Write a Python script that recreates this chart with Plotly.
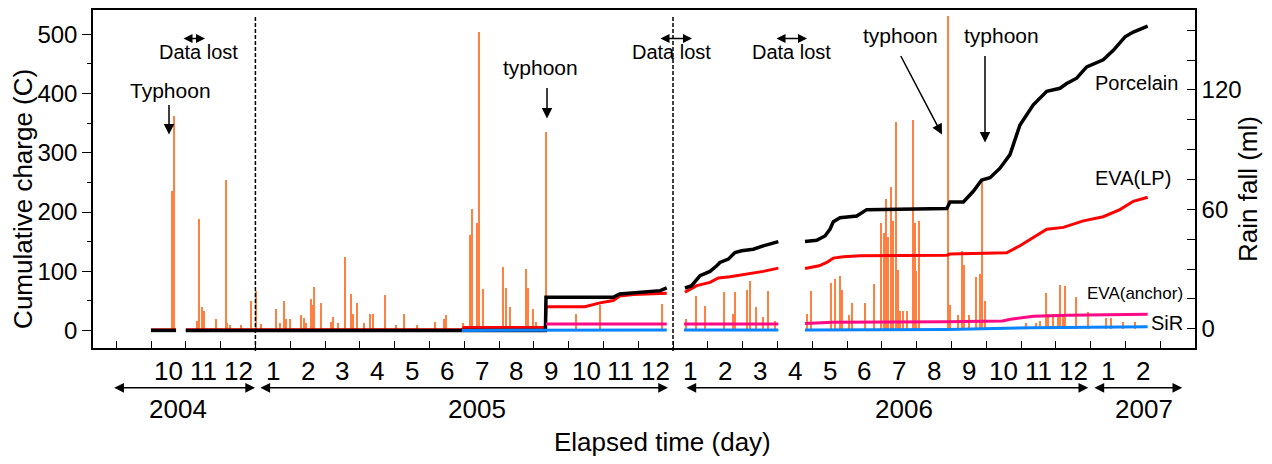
import plotly.graph_objects as go

# ---------------- data ----------------
# daily rain fall (ml): elapsed day, amount
rain_day = [18.4, 19.8, 40.3, 41.4, 44.6, 46, 56.6, 64.7, 66.1, 68.1, 78.2, 86,
            91.1, 95.4, 107.8, 111.2, 114.7, 116.4, 120.4, 129.9, 131.9, 133.6, 137.9, 139.1,
            140.8, 146.6, 155.8, 157.2, 161, 167.8, 172.4, 174.4, 177.8, 183.6, 188.8, 191.6,
            201.7, 211.8, 218.1, 229.6, 244.8, 252.8, 254.3, 269.2, 275, 277.3, 281.3, 283,
            286, 303.7, 306, 310.1, 323.9, 325.3, 329.1, 331.9, 340.5, 367, 387.1, 440.8,
            461.8, 470.4, 477.6, 494, 502, 503.4, 514, 517, 522.1, 527.8, 532.2, 537.9,
            565.8, 569.6, 586.8, 590.2, 594, 596.3, 601.7, 604.1, 616.1, 623.3,
            629.9, 631.9, 633.6, 635.6, 637.9, 639.9, 642.2, 644.2, 645.7, 648.5, 652,
            657.2, 658.9, 660.1, 662.1, 687.3, 688.8, 696, 699.4, 700.9, 705.2, 711.8,
            714.7, 717, 719, 754.9, 763.5, 766.4, 771.6, 773.5, 777.8, 781.9, 783.6,
            786.5, 788, 798, 808, 823.9, 828.2, 838.2, 848.3]
rain_ml = [69, 107, 4, 55, 11, 9, 5, 75, 3, 2, 2, 14,
           19, 2.5, 10, 3, 14, 5, 5, 7, 5.5, 3, 15, 12,
           21, 13, 3.5, 6, 3, 36, 17.5, 7.5, 13, 3, 7.5, 7.5,
           17, 2, 7.5, 2, 3.3, 5, 7, 3, 47, 60, 53, 149,
           20, 31, 20.5, 11, 30, 20.5, 10, 3.3, 99, 7.5, 12, 12.5,
           5, 16.3, 11.2, 18.3, 7.5, 18.3, 19.5, 23.8, 10.8, 5.8, 18.8, 4,
           7.5, 19, 22.8, 25, 26.7, 19.5, 7, 12.8, 13, 22.5,
           53, 48, 65, 46, 71, 54, 104, 29.5, 9, 8.7, 8.8,
           105, 53, 29, 54, 157, 12, 7, 39, 32, 7, 26,
           27.5, 74, 14, 3, 3, 4, 18, 7.5, 7.5, 7.5, 22,
           7.5, 21.7, 16, 8.3, 5.5, 5.5, 3.5, 3.5]

# cumulative charge (C); None = data lost
por_day = [0, 21.6, None, 30, 340, 340.5, 398.5, 404, 427, 439, 444.6, None,
           460.3, 466.1, 473.3, 481.9, 487.7, 490.5, 497.7, 503.4, 509.2, 519.2, 527.8, 540.8, None,
           563.8, 573.9, 581, 585.3, 588.2, 594, 608.4, 617, 686, 688.8, 700.3, 708.9,
           716.1, 723.3, 731.9, 740.5, 749.1, 760.6, 772.2, 783.6, 789.4, 798,
           806.6, 820.9, 829.6, 839.7, 846.8, 859.2]
por_val = [0, 0, None, 0, 0, 56, 56, 61.6, 64.5, 67.2, 71.7, None,
           71.7, 75.6, 92.4, 99.7, 109.2, 114.8, 120.4, 131.5, 134.4, 137.2, 142.8, 150, None,
           150, 152.2, 159.6, 170.8, 183.6, 190.4, 193.2, 204, 206, 217, 217, 235,
           254, 258, 274, 297, 347, 381, 404, 409, 417, 426,
           445, 457, 473, 496, 504, 514]

lp_day = [0, 21.6, None, 30, 268, 270, 340, 340.5, 374, 387, 398.5, 404, 415.7, 444.6, None,
          460.3, 470.4, 481.9, 489.1, 499.1, 513.5, 527.8, 540.8, None,
          563.8, 576, 582.5, 588.2, 596.8, 611.2, 686, 688.8, 737.7, 749.1, 760.6, 772.2, 786.5,
          803.7, 820.9, 835.3, 846.8, 859.2]
lp_val = [1, 1, None, 1, 1, 5, 5, 40, 40, 46.5, 50.4, 58, 60.5, 62.7, None,
          64.4, 75.6, 81.2, 88.5, 90.7, 95.2, 99.7, 105.2, None,
          104.7, 109.2, 114.8, 122.1, 124.3, 126, 127, 129, 131, 143, 157, 171, 174,
          185, 192, 204, 218, 225]

anc_day = [340.5, 444.6, None, 459.5, 540.8, None, 563.8, 588, 686, 734, 741, 760.6, 790, 859.2]
anc_val = [11, 11, None, 11, 11, None, 11.5, 14, 14.5, 16, 19, 24, 25.5, 27.5]

sir_day = [268, 444.6, None, 459.5, 540.8, None, 563.8, 686, 760, 859.2]
sir_val = [0, 0.5, None, 0.8, 0.8, None, 0.8, 1.5, 4.5, 6]

month_labels = ["10", "11", "12",
                "1", "2", "3", "4", "5", "6", "7", "8", "9", "10", "11", "12",
                "1", "2", "3", "4", "5", "6", "7", "8", "9", "10", "11", "12",
                "1", "2"]
year_labels = ["2004", "2005", "2006", "2007"]
year_label_day = [23, 281, 649, 856]
year_span = [(-33, 89.7), (93, 445.7), (460.3, 808), (812, 889)]

# ---------------- layout constants ----------------
FONT = "Liberation Sans, Arial, sans-serif"
L, R, T, B = 93, 77, 8, 116
W, H = 1272, 464
PW = W - L - R
PH = H - T - B
X0, X1 = -50, 900
PXD = PW / (X1 - X0)


def py(ypix):
    return (H - B - ypix) / PH


fig = go.Figure()

fig.add_trace(go.Bar(x=rain_day, y=rain_ml, width=1.3, marker=dict(color="#ff8040", line=dict(width=0)),
                     yaxis="y", name="Rain fall", showlegend=False))

for xs, ys, col, w, nm in [(lp_day, lp_val, "#ff0000", 3, "EVA(LP)"),
                           (por_day, por_val, "#000000", 3.5, "Porcelain"),
                           (anc_day, anc_val, "#ff0a84", 3, "EVA(anchor)"),
                           (sir_day, sir_val, "#0a84ff", 3, "SiR")]:
    fig.add_trace(go.Scatter(x=xs, y=ys, mode="lines", line=dict(color=col, width=w),
                             yaxis="y2", name=nm, showlegend=False, connectgaps=False))

ann = []
# month labels
for k, lab in enumerate(month_labels):
    ann.append(dict(x=30 * k + 15, y=py(371), xref="x", yref="paper", text=lab, showarrow=False,
                    font=dict(size=26), xanchor="center", yanchor="middle"))
# year arrows and labels
for (a, b), lab, xd in zip(year_span, year_labels, year_label_day):
    ann.append(dict(x=b, y=py(388), xref="x", yref="paper", text="", showarrow=True,
                    ax=-(b - a) * PXD, ay=0, axref="pixel", ayref="pixel",
                    arrowside="end+start", arrowhead=2, arrowsize=1.3, arrowwidth=1.5,
                    arrowcolor="black", standoff=0, startstandoff=0))
    ann.append(dict(x=xd, y=py(409), xref="x", yref="paper", text=lab, showarrow=False,
                    font=dict(size=26), xanchor="center", yanchor="middle"))
ann.append(dict(x=(662 - L) / PW, y=py(443), xref="paper", yref="paper", text="Elapsed time (day)",
                showarrow=False, font=dict(size=26), xanchor="center", yanchor="middle"))
ann.append(dict(x=(23 - L) / PW, y=py(198), xref="paper", yref="paper", text="Cumulative charge (C)",
                showarrow=False, font=dict(size=26), textangle=-90, xanchor="center", yanchor="middle"))
ann.append(dict(x=(1248 - L) / PW, y=py(188), xref="paper", yref="paper", text="Rain fall (ml)",
                showarrow=False, font=dict(size=26), textangle=-90, xanchor="center", yanchor="middle"))


def cy(ypix):
    # charge-axis value for a pixel row
    return (330 - ypix) / 0.5953


def dx(xpix):
    return (xpix - 151) / PXD


# text labels in plot
for txt, xp, yp, fs in [("Typhoon", 170, 89, 21), ("Data lost", 198, 50, 20), ("typhoon", 540, 66, 21),
                        ("Data lost", 671, 50, 20), ("Data lost", 791, 50, 20),
                        ("typhoon", 900, 33, 21), ("typhoon", 1001, 33, 21),
                        ("Porcelain", 1136, 81, 20), ("EVA(LP)", 1133, 177, 20),
                        ("EVA(anchor)", 1135, 293, 17), ("SiR", 1167, 323, 20)]:
    ann.append(dict(x=dx(xp), y=cy(yp), xref="x", yref="y2", text=txt, showarrow=False,
                    font=dict(size=fs), xanchor="center", yanchor="middle"))

# single arrows (head x, head y, tail dx, tail dy in px)
for hx, hy, tx, ty in [(169, 133, 0, -31), (547, 117, 0, -32), (942, 133, -42, -80), (985, 141, 0, -88)]:
    ann.append(dict(x=dx(hx), y=cy(hy), xref="x", yref="y2", text="", showarrow=True,
                    ax=tx, ay=ty, axref="pixel", ayref="pixel", arrowhead=2, arrowsize=1.4,
                    arrowwidth=1.5, arrowcolor="black", standoff=0))
# double arrows for data lost
for a, b in [(182, 205), (659, 692), (775, 807)]:
    ann.append(dict(x=dx(b), y=cy(36.5), xref="x", yref="y2", text="", showarrow=True,
                    ax=-(b - a), ay=0, axref="pixel", ayref="pixel", arrowside="end+start",
                    arrowhead=2, arrowsize=1.2, arrowwidth=1.5, arrowcolor="black",
                    standoff=0, startstandoff=0))

shapes = []
for xv in [90, 450]:
    shapes.append(dict(type="line", xref="x", yref="paper", x0=xv, x1=xv, y0=py(15), y1=py(353),
                       line=dict(color="black", width=1.5, dash="4px,2px")))

fig.update_layout(
    width=W, height=H, margin=dict(l=L, r=R, t=T, b=B),
    paper_bgcolor="white", plot_bgcolor="white",
    font=dict(family=FONT, color="black", size=24),
    showlegend=False, bargap=0,
    annotations=ann, shapes=shapes,
    xaxis=dict(range=[X0, X1], showgrid=False, zeroline=False, showline=True, linecolor="black",
               linewidth=1.5, mirror=True, tickvals=list(range(-30, 901, 30)), ticks="inside",
               ticklen=7, tickcolor="black", tickwidth=1.2, showticklabels=False),
    yaxis=dict(range=[-9.7, 160.2], side="right", showgrid=False, zeroline=False, showline=True,
               linecolor="black", linewidth=1.5, tickvals=[0, 60, 120], ticks="inside", ticklen=8,
               tickcolor="black", tickwidth=1.2, tickfont=dict(size=24),
               minor=dict(tickvals=[15, 30, 45, 75, 90, 105, 135, 150], ticks="inside", ticklen=8,
                          tickcolor="black", tickwidth=1.2)),
    yaxis2=dict(range=[-29.7, 541.2], side="left", overlaying="y", showgrid=False, zeroline=False,
                showline=True, linecolor="black", linewidth=1.5, tickvals=[0, 100, 200, 300, 400, 500],
                ticks="outside", ticklen=9, tickcolor="black", tickwidth=1.2, tickfont=dict(size=24),
                minor=dict(tickvals=[50, 150, 250, 350, 450], ticks="outside", ticklen=4,
                           tickcolor="black", tickwidth=1.2)),
)

fig.write_html("out.html")
